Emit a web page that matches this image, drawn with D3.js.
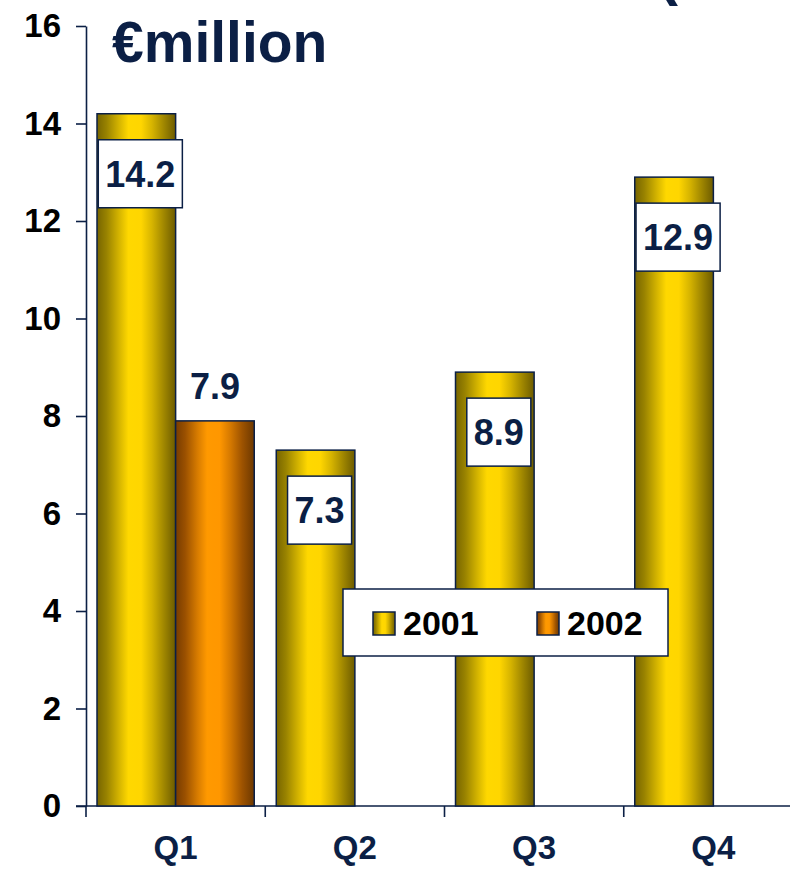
<!DOCTYPE html>
<html>
<head>
<meta charset="utf-8">
<script src="https://cdn.jsdelivr.net/npm/d3@7"></script>
<style>
  html, body { margin: 0; padding: 0; background: #ffffff; }
  svg { display: block; font-family: "Liberation Sans", Arial, sans-serif; }
</style>
</head>
<body>
<svg id="chart" width="790" height="876"></svg>
<script>
// Quarterly figures, € million
const quarters = ["Q1", "Q2", "Q3", "Q4"];
const seriesNames = ["2001", "2002"];
const values2001 = [14.2, 7.3, 8.9, 12.9];
const values2002 = [7.9, null, null, null];
const yTicks = [0, 2, 4, 6, 8, 10, 12, 14, 16];

const navy = "#0b1f45";
const svg = d3.select("#chart");

// Horizontal shaded fills for the bars
const defs = svg.append("defs");
function shade(id, stops) {
  const g = defs.append("linearGradient").attr("id", id)
    .attr("x1", "0%").attr("x2", "100%").attr("y1", "0%").attr("y2", "0%");
  stops.forEach(([o, c]) => g.append("stop").attr("offset", o).attr("stop-color", c));
}
shade("gold", [
  ["0%", "#776500"], ["12%", "#988200"], ["28%", "#d4b400"], ["40%", "#ffd800"],
  ["56%", "#ffd600"], ["70%", "#d6b400"], ["85%", "#a08700"], ["100%", "#6c5b00"]
]);
shade("amber", [
  ["0%", "#773c00"], ["12%", "#9a5000"], ["28%", "#d87c00"], ["40%", "#ff9900"],
  ["56%", "#ff9700"], ["70%", "#d47800"], ["85%", "#9c5200"], ["100%", "#6c3800"]
]);
const fills = { "2001": "url(#gold)", "2002": "url(#amber)" };

// Scales
const x0 = d3.scaleBand().domain(quarters).range([86, 803]).padding(0);
const x1 = d3.scaleBand().domain(seriesNames).range([0, x0.bandwidth()])
  .paddingInner(0).paddingOuter(0.14);
const y = d3.scaleLinear().domain([0, 16]).range([806, 26]);

// Y axis
const yAxis = d3.axisLeft(y).tickValues(yTicks).tickSize(10).tickSizeOuter(0).tickPadding(15);
const gy = svg.append("g").attr("transform", "translate(86,0)").call(yAxis);
gy.select(".domain").attr("stroke", navy).attr("stroke-width", 1.6);
gy.selectAll(".tick line").attr("stroke", navy).attr("stroke-width", 1.6);
gy.selectAll(".tick text")
  .attr("fill", "#000").attr("font-size", 33).attr("font-weight", "bold")
  .attr("font-family", "Liberation Sans, Arial, sans-serif");

// X axis (ticks between the quarters)
const xAxis = d3.axisBottom(x0).tickSize(0).tickPadding(30);
const gx = svg.append("g").attr("transform", "translate(0,806)").call(xAxis);
gx.select(".domain").remove();
gx.append("line").attr("x1", 76).attr("x2", 790).attr("y1", 0).attr("y2", 0)
  .attr("stroke", navy).attr("stroke-width", 1.6);
gx.selectAll(".bound").data(quarters).enter().append("line")
  .attr("x1", d => x0(d)).attr("x2", d => x0(d)).attr("y1", 0).attr("y2", 11)
  .attr("stroke", navy).attr("stroke-width", 1.6);
gx.selectAll(".tick text")
  .attr("fill", navy).attr("font-size", 33).attr("font-weight", "bold")
  .attr("dy", "0.69em")
  .attr("font-family", "Liberation Sans, Arial, sans-serif");

// Bars
const rows = quarters.map((q, i) => ({
  q,
  items: [
    { s: "2001", v: values2001[i] },
    { s: "2002", v: values2002[i] }
  ].filter(d => d.v != null)
}));

const groups = svg.append("g").selectAll("g").data(rows).enter().append("g")
  .attr("transform", d => `translate(${x0(d.q)},0)`);

groups.selectAll("rect").data(d => d.items).enter().append("rect")
  .attr("x", d => x1(d.s))
  .attr("y", d => y(d.v))
  .attr("width", x1.bandwidth())
  .attr("height", d => y(0) - y(d.v))
  .attr("fill", d => fills[d.s])
  .attr("stroke", navy).attr("stroke-width", 1.5);

// Value labels: boxed inside the 2001 bars, plain above the 2002 bar
const labelFont = 36;
groups.each(function (d) {
  const g = d3.select(this);
  d.items.forEach(it => {
    const cx = x1(it.s) + x1.bandwidth() / 2;
    const txt = it.v.toFixed(1);
    if (it.s === "2001") {
      const cy = y(it.v) + 60;
      const t = g.append("text").text(txt)
        .attr("x", cx + 4).attr("y", cy).attr("dy", "0.36em")
        .attr("text-anchor", "middle")
        .attr("font-size", labelFont).attr("font-weight", "bold").attr("fill", navy);
      const w = t.node().getComputedTextLength() + 14;
      g.insert("rect", () => t.node())
        .attr("x", cx + 4 - w / 2).attr("y", cy - 34)
        .attr("width", w).attr("height", 68)
        .attr("fill", "#fff").attr("stroke", navy).attr("stroke-width", 1.5);
    } else {
      g.append("text").text(txt)
        .attr("x", cx).attr("y", y(it.v) - 22)
        .attr("text-anchor", "middle")
        .attr("font-size", labelFont).attr("font-weight", "bold").attr("fill", navy);
    }
  });
});

// Legend
const legend = svg.append("g").attr("transform", "translate(343,589)");
legend.append("rect").attr("width", 325).attr("height", 67)
  .attr("fill", "#fff").attr("stroke", navy).attr("stroke-width", 1.5);
const legendX = [30, 194];
seriesNames.forEach((s, i) => {
  legend.append("rect")
    .attr("x", legendX[i]).attr("y", 23).attr("width", 22).attr("height", 23)
    .attr("fill", fills[s]).attr("stroke", navy).attr("stroke-width", 1.5);
  legend.append("text").text(s)
    .attr("x", legendX[i] + 30).attr("y", 46)
    .attr("font-size", 34).attr("font-weight", "bold").attr("fill", "#000");
});

// Unit caption and the clipped bracket of the heading above
svg.append("text").text("€million")
  .attr("x", 112).attr("y", 62)
  .attr("font-size", 57).attr("font-weight", "bold").attr("fill", navy);
svg.append("text").text("(")
  .attr("x", 658).attr("y", -6)
  .attr("font-size", 60).attr("font-weight", "bold").attr("fill", navy);
</script>
</body>
</html>
